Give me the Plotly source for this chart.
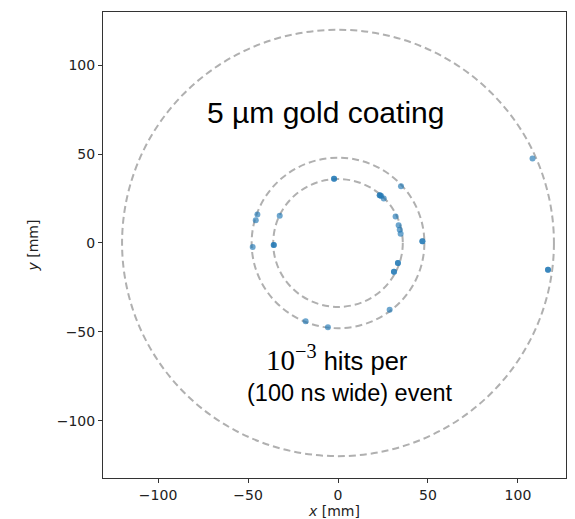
import plotly.graph_objects as go

# Hit positions [mm] (darker points in the reference appear as overlapping hits)
hit_x = [-2.2, -2.2, 35.0, 23.2, 23.2, 24.0, 25.4, 32.0, 33.7, 34.3, 34.8, 46.9, 46.9,
         33.3, 33.3, 31.1, 31.1, 28.7, -5.6, -18.0, -35.7, -35.7, -47.4, -32.4,
         -44.8, -45.7, 108.1, 116.7, 116.7]
hit_y = [36.1, 36.1, 31.9, 26.9, 26.9, 26.4, 25.0, 14.9, 9.9, 7.4, 5.2, 1.0, 1.0,
         -11.3, -11.3, -16.2, -16.2, -37.6, -47.5, -44.1, -1.1, -1.1, -2.3, 15.3,
         16.0, 12.8, 47.5, -15.1, -15.1]

# Detector ring radii [mm]
ring_radii = [36, 48, 120]

tick_vals = [-100, -50, 0, 50, 100]
tick_text = ["\u2212100", "\u221250", "0", "50", "100"]

fig = go.Figure()
fig.add_trace(go.Scatter(
    x=hit_x, y=hit_y, mode="markers",
    marker=dict(size=6, color="rgba(31,119,180,0.65)", line=dict(width=0)),
    showlegend=False, hoverinfo="skip"))

shapes = []
for r in ring_radii:
    shapes.append(dict(type="circle", xref="x", yref="y", x0=-r, y0=-r, x1=r, y1=r,
                       line=dict(color="#b0b0b0", width=2, dash="7px,4px"), layer="below"))

axis_common = dict(
    tickvals=tick_vals, ticktext=tick_text, ticks="outside", ticklen=4, tickwidth=1,
    tickcolor="#333", showline=True, linecolor="#333", linewidth=1, mirror=True,
    showgrid=False, zeroline=False, automargin=False,
    tickfont=dict(family="DejaVu Sans", size=14, color="#222"),
)

fig.update_layout(
    width=567, height=511,
    margin=dict(l=95, r=9, t=4, b=41),
    plot_bgcolor="white", paper_bgcolor="white",
    shapes=shapes,
    xaxis=dict(range=[-130.6, 126.7], title=dict(text="<i>x</i> [mm]", standoff=4,
               font=dict(family="DejaVu Sans", size=14, color="#222")), **axis_common),
    yaxis=dict(range=[-132.3, 130.0], title=dict(text="<i>y</i> [mm]", standoff=14,
               font=dict(family="DejaVu Sans", size=14, color="#222")), **axis_common),
    annotations=[
        dict(x=-6.7, y=73.5, xref="x", yref="y", text="5 \u00b5m gold coating",
             showarrow=False, font=dict(family="Liberation Sans", size=30, color="black")),
        dict(x=-0.5, y=-64.7, xref="x", yref="y",
             text="<span style=\"font-family:'Liberation Serif';font-size:29px\">10<sup>\u22123</sup></span> hits per",
             showarrow=False, font=dict(family="Liberation Sans", size=25.5, color="black")),
        dict(x=6.4, y=-84.2, xref="x", yref="y", text="(100 ns wide) event",
             showarrow=False, font=dict(family="Liberation Sans", size=23.5, color="black")),
    ],
)

fig.write_html("out.html")
